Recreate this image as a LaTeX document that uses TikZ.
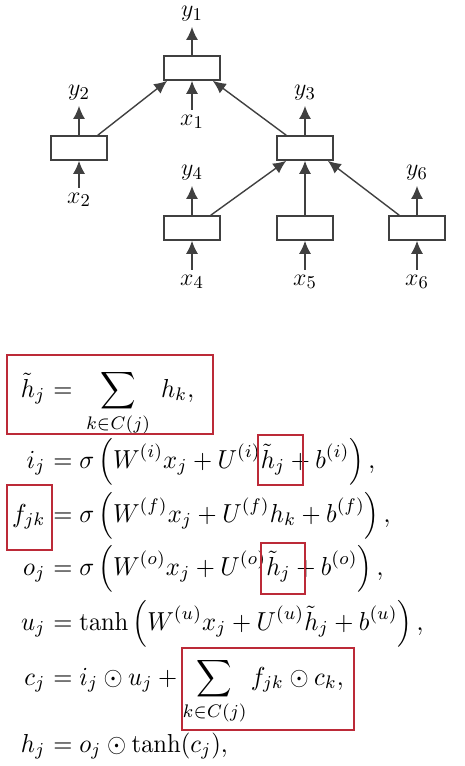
\documentclass[tikz,border=0pt]{standalone}
\usepackage{amsmath}
\usepackage{amsfonts}
\usetikzlibrary{arrows.meta,positioning,calc}
\definecolor{hlred}{RGB}{188,42,56}

\begin{document}
\begin{tikzpicture}[x=0.5pt,y=-0.5pt]
\tikzstyle{cell} = [draw=black!75, line width=0.8pt, minimum width=28pt, minimum height=12pt, inner sep=0pt]
\tikzstyle{lbl} = [inner sep=2.5pt, font=\fontsize{13}{15}\selectfont]
\tikzstyle{arr} = [draw=black!75, line width=0.7pt, -{Latex[length=6.5pt,width=6pt]}]
\tikzstyle{eqn} = [inner sep=0pt, font=\fontsize{10}{12}\selectfont, xscale=1.23, yscale=1.3, transform shape]
\tikzstyle{hl} = [draw=hlred, line width=0.6pt]
\useasboundingbox (0,0) rectangle (465,766);

% tree
\node[cell] at (192,68) (c1) {};
\node[cell] at (79,148) (c2) {};
\node[cell] at (305,148) (c3) {};
\node[cell] at (192,228) (c4) {};
\node[cell] at (305,228) (c5) {};
\node[cell] at (417,228) (c6) {};

\node[lbl] at (192,14) (y1) {$y_1$};
\node[lbl] at (79,93) (y2) {$y_2$};
\node[lbl] at (305,93) (y3) {$y_3$};
\node[lbl] at (192,173) (y4) {$y_4$};
\node[lbl] at (417,173) (y6) {$y_6$};

\node[lbl] at (192,122) (x1) {$x_1$};
\node[lbl] at (79,200) (x2) {$x_2$};
\node[lbl] at (192,282) (x4) {$x_4$};
\node[lbl] at (305,282) (x5) {$x_5$};
\node[lbl] at (417,282) (x6) {$x_6$};

\foreach \c/\y in {c1/y1,c2/y2,c3/y3,c4/y4,c6/y6}
  \draw[arr] (\c) -- (\y);
\foreach \x/\c in {x1/c1,x2/c2,x4/c4,x5/c5,x6/c6}
  \draw[arr] (\x) -- (\c);

\draw[arr] ($(c2.north east)+(-10,0)$) -- ($(c1.south west)+(4,0)$);
\draw[arr] ($(c3.north west)+(10,0)$) -- ($(c1.south east)+(-8,0)$);
\draw[arr] ($(c4.north east)+(-10,0)$) -- ($(c3.south west)+(10,0)$);
\draw[arr] (c5) -- (c3);
\draw[arr] ($(c6.north west)+(11,0)$) -- ($(c3.south east)+(-6,0)$);

% equations
\node[eqn, anchor=base east] at (46,397) (hl) {$\tilde{h}_j$};
\node[eqn, anchor=base west] at (46,397) (hr) {$\displaystyle {}= \;\sum_{k\in C(j)}\; h_k,$};
\node[eqn, anchor=base east] at (46,468) (il) {$i_j$};
\node[eqn, anchor=base west] at (46,468) (ir) {$\displaystyle {}= \sigma\left(W^{(i)}x_j + U^{(i)}\tilde{h}_j + b^{(i)}\right),$};
\node[eqn, anchor=base east] at (46,522) (fl) {$f_{jk}$};
\node[eqn, anchor=base west] at (46,522) (fr) {$\displaystyle {}= \sigma\left(W^{(f)}x_j + U^{(f)}h_k + b^{(f)}\right),$};
\node[eqn, anchor=base east] at (46,575) (ol) {$o_j$};
\node[eqn, anchor=base west] at (46,575) (or) {$\displaystyle {}= \sigma\left(W^{(o)}x_j + U^{(o)}\tilde{h}_j + b^{(o)}\right),$};
\node[eqn, anchor=base east] at (46,630) (ul) {$u_j$};
\node[eqn, anchor=base west] at (46,630) (ur) {$\displaystyle {}= \tanh\left(W^{(u)}x_j + U^{(u)}\tilde{h}_j + b^{(u)}\right),$};
\node[eqn, anchor=base east] at (46,685) (cl) {$c_j$};
\node[eqn, anchor=base west] at (46,685) (cr) {$\displaystyle {}= i_j \odot u_j + \sum_{k\in C(j)} f_{jk}\odot c_k,$};
\node[eqn, anchor=base east] at (46,752) (hhl) {$h_j$};
\node[eqn, anchor=base west] at (46,752) (hhr) {$\displaystyle {}= o_j \odot \tanh(c_j),$};

% highlight frames
\draw[hl] (7,355) rectangle (213,434);
\draw[hl] (258,435) rectangle (303,485);
\draw[hl] (7,485) rectangle (52,550);
\draw[hl] (261,543) rectangle (305,594);
\draw[hl] (182,648) rectangle (354,730);
\end{tikzpicture}
\end{document}
